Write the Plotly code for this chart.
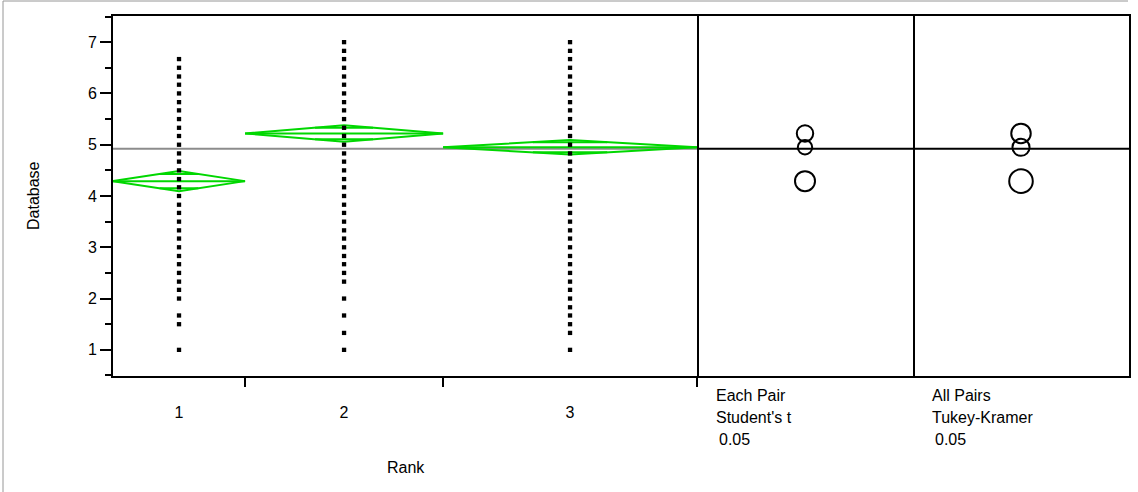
import math
import plotly.graph_objects as go

# ---------------- data ----------------
groups = ["1", "2", "3"]
group_n = [52, 78, 100]
group_means = [4.29, 5.22, 4.95]
ci_half = [0.195, 0.16, 0.14]          # 95% CI half width (diamond) = Student's t circle radius
tukey_radius = [0.23, 0.19, 0.167]      # Tukey-Kramer circle radius
grand_mean = 4.92

rank1_values = [1.0, 1.5, 1.67, 2.0, 2.17, 2.33, 2.5, 2.67, 2.83, 3.0, 3.17, 3.33, 3.5,
                3.67, 3.83, 4.0, 4.17, 4.33, 4.5, 4.67, 4.83, 5.0, 5.17, 5.33, 5.5, 5.67,
                5.83, 6.0, 6.17, 6.33, 6.5, 6.67]
rank2_values = [1.0, 1.33, 1.67, 2.0, 2.33, 2.5, 2.67, 2.83, 3.0, 3.17, 3.33, 3.5, 3.67,
                3.83, 4.0, 4.17, 4.33, 4.5, 4.67, 4.83, 5.0, 5.17, 5.33, 5.5, 5.67, 5.83,
                6.0, 6.17, 6.33, 6.5, 6.67, 6.83, 7.0]
rank3_values = [1.0, 1.33, 1.5, 1.67, 1.83, 2.0, 2.17, 2.33, 2.5, 2.67, 2.83, 3.0, 3.17,
                3.33, 3.5, 3.67, 3.83, 4.0, 4.17, 4.33, 4.5, 4.67, 4.83, 5.0, 5.17, 5.33,
                5.5, 5.67, 5.83, 6.0, 6.17, 6.33, 6.5, 6.67, 6.83, 7.0]
group_values = [rank1_values, rank2_values, rank3_values]

y_ticks = [1, 2, 3, 4, 5, 6, 7]
y_range = [0.49, 7.51]
panel_labels = [["Each Pair", "Student's t", "0.05"], ["All Pairs", "Tukey-Kramer", "0.05"]]

# ---------------- layout geometry ----------------
W, H = 1138, 492
ML, MR, MT, MB = 113, 9, 16, 116
PW = W - ML - MR
PH = H - MT - MB
d1 = (697 - ML) / PW
d2 = (913 - ML) / PW
FONT = "Liberation Sans, Arial, sans-serif"
FS = 16
GREEN = "rgb(0,215,0)"

ppu = PH / (y_range[1] - y_range[0])
half2 = (d2 - d1) * PW / 2 / ppu
half3 = (1 - d2) * PW / 2 / ppu

bounds = [0]
for n in group_n:
    bounds.append(bounds[-1] + n)
centers = [(bounds[i] + bounds[i + 1]) / 2 for i in range(3)]

fig = go.Figure()

# diamonds
for i in range(3):
    L, R, c, m, h = bounds[i], bounds[i + 1], centers[i], group_means[i], ci_half[i]
    k = h / math.sqrt(2)
    hw = (R - L) / 2 * (1 - 1 / math.sqrt(2))
    xs = [L, c, R, c, L, None, L, R, None, c - hw, c + hw, None, c - hw, c + hw]
    ys = [m, m + h, m, m - h, m, None, m, m, None, m + k, m + k, None, m - k, m - k]
    fig.add_trace(go.Scatter(x=xs, y=ys, mode="lines", line=dict(color=GREEN, width=2),
                             hoverinfo="skip", showlegend=False, xaxis="x", yaxis="y"))

# points
for i in range(3):
    fig.add_trace(go.Scatter(x=[centers[i]] * len(group_values[i]), y=group_values[i],
                             mode="markers",
                             marker=dict(symbol="square", size=4.3, color="black", line=dict(width=0)),
                             showlegend=False, xaxis="x", yaxis="y"))

# invisible traces to create the other subplots
fig.add_trace(go.Scatter(x=[0], y=[grand_mean], mode="markers", marker=dict(opacity=0),
                         showlegend=False, xaxis="x2", yaxis="y2", hoverinfo="skip"))
fig.add_trace(go.Scatter(x=[0], y=[grand_mean], mode="markers", marker=dict(opacity=0),
                         showlegend=False, xaxis="x3", yaxis="y3", hoverinfo="skip"))
fig.add_trace(go.Scatter(x=[centers[0]], y=[grand_mean], mode="markers", marker=dict(opacity=0),
                         showlegend=False, xaxis="x4", yaxis="y", hoverinfo="skip"))

shapes = []
# grand mean lines
shapes.append(dict(type="line", xref="x domain", yref="y", x0=0, x1=1, y0=grand_mean, y1=grand_mean,
                   line=dict(color="rgb(140,140,140)", width=2), layer="below"))
for xr in ["x2 domain", "x3 domain"]:
    shapes.append(dict(type="line", xref=xr, yref="y", x0=0, x1=1, y0=grand_mean, y1=grand_mean,
                       line=dict(color="black", width=2)))
# comparison circles
for xr, yr, radii in [("x2", "y2", ci_half), ("x3", "y3", tukey_radius)]:
    for m, r in zip(group_means, radii):
        shapes.append(dict(type="circle", xref=xr, yref=yr, x0=-r, x1=r, y0=m - r, y1=m + r,
                           line=dict(color="black", width=2)))
# outer gray border (left and top)
shapes.append(dict(type="line", xref="paper", yref="paper", x0=(3 - ML) / PW, x1=(3 - ML) / PW,
                   y0=(MB - H) / PH, y1=1 + (MT - 1) / PH, line=dict(color="rgb(150,150,150)", width=1)))
shapes.append(dict(type="line", xref="paper", yref="paper", x0=(3 - ML) / PW, x1=(1128 - ML) / PW,
                   y0=1 + (MT - 1) / PH, y1=1 + (MT - 1) / PH, line=dict(color="rgb(150,150,150)", width=1)))

def py(ypx):
    return (MT + PH - ypx) / PH

def px(xpx):
    return (xpx - ML) / PW

annotations = [
    dict(text="Database", x=px(33), y=0.5, xref="paper", yref="paper", textangle=-90,
         xanchor="center", yanchor="middle", showarrow=False,
         font=dict(size=FS, family=FONT, color="black")),
    dict(text="Rank", x=px(406), y=py(467), xref="paper", yref="paper", showarrow=False,
         xanchor="center", yanchor="middle", font=dict(size=FS, family=FONT, color="black")),
]
for lx, lines in zip([714, 930], panel_labels):
    for j, (t, yy) in enumerate(zip(lines, [395, 417, 439])):
        annotations.append(dict(text=t, x=px(lx + (3 if j == 2 else 0)), y=py(yy), xref="paper",
                                yref="paper", xanchor="left", yanchor="middle", showarrow=False,
                                font=dict(size=FS, family=FONT, color="black")))

frame = dict(linecolor="black", linewidth=2, showgrid=False, zeroline=False)

fig.update_layout(
    width=W, height=H,
    margin=dict(l=ML, r=MR, t=MT, b=MB),
    paper_bgcolor="white", plot_bgcolor="white",
    font=dict(family=FONT, size=FS, color="black"),
    showlegend=False,
    xaxis=dict(domain=[0, d1], range=[0, bounds[-1]], tickvals=bounds[1:], showticklabels=False,
               ticks="outside", ticklen=9, tickwidth=1.5, tickcolor="black",
               showline=True, mirror=True, **frame),
    xaxis4=dict(overlaying="x", range=[0, bounds[-1]], tickvals=centers, ticktext=groups,
                ticks="outside", ticklen=22, tickcolor="rgba(0,0,0,0)", showline=False,
                showgrid=False, zeroline=False, anchor="y", side="bottom",
                tickfont=dict(size=FS, family=FONT)),
    yaxis=dict(range=y_range, tickvals=y_ticks, ticks="outside", ticklen=11, tickwidth=1.5,
               tickcolor="black", minor=dict(dtick=0.5, tick0=0, ticks="outside", ticklen=6,
                                              tickwidth=1.5, tickcolor="black"),
               tickfont=dict(size=FS, family=FONT), anchor="x",
               showline=True, mirror=True, **frame),
    xaxis2=dict(domain=[d1, d2], range=[-half2, half2], showticklabels=False, ticks="",
                anchor="y2", showline=True, mirror=True, **frame),
    yaxis2=dict(matches="y", range=y_range, showticklabels=False, ticks="", anchor="x2",
                side="right", showline=True, mirror=False, **frame),
    xaxis3=dict(domain=[d2, 1], range=[-half3, half3], showticklabels=False, ticks="",
                anchor="y3", showline=True, mirror=True, **frame),
    yaxis3=dict(matches="y", range=y_range, showticklabels=False, ticks="", anchor="x3",
                side="right", showline=True, mirror=False, **frame),
    shapes=shapes,
    annotations=annotations,
)

fig.write_html("out.html", config={"displayModeBar": False},
               post_script="document.body.style.margin='0';document.body.style.padding='0';")
